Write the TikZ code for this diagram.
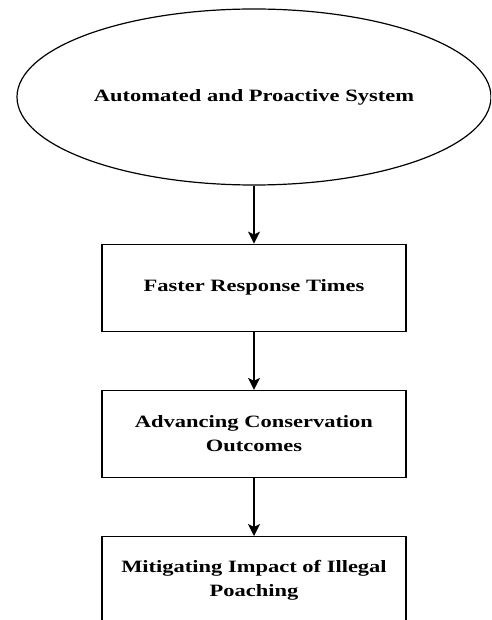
\documentclass[tikz,border=0pt]{standalone}
\usepackage{fontspec}
\setmainfont{Liberation Serif}[FakeStretch=1.3]
\usetikzlibrary{shapes.geometric,positioning,arrows.meta}
\begin{document}
\begin{tikzpicture}[-{Stealth[length=12pt,width=12pt,inset=3pt]},x=1pt,y=-1pt,node distance=58pt,line width=1.2pt,
  font=\fontsize{17.3}{24}\selectfont\bfseries,
  oval/.style={ellipse,draw,minimum width=474pt,minimum height=176pt,inner sep=0pt},
  block/.style={rectangle,draw,minimum width=304pt,minimum height=87pt,align=center}]
  \useasboundingbox (0,0) rectangle (491,620);
  \clip (0,0) rectangle (491,620);
  \node[oval] (sys) at (254,97) {Automated and Proactive System};
  \node[block] (fast) [below=of sys] {Faster Response Times};
  \node[block] (cons) [below=of fast] {Advancing Conservation\\Outcomes};
  \node[block] (poach) [below=of cons] {Mitigating Impact of Illegal\\Poaching};

\path (sys) edge (fast)
      (fast) edge (cons)
      (cons) edge (poach);
\end{tikzpicture}
\end{document}
